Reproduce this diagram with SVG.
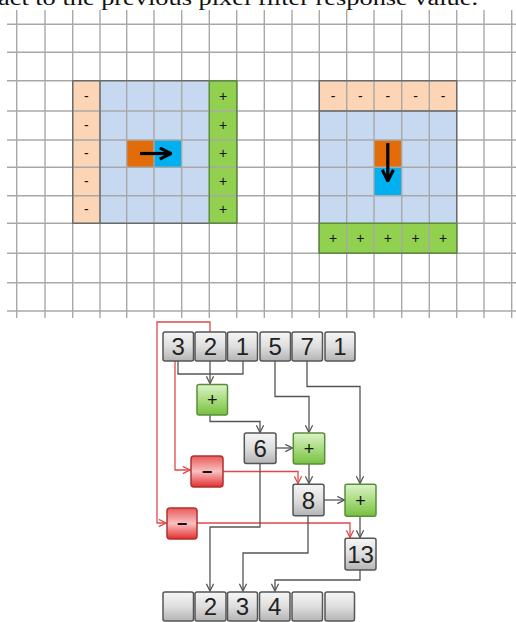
<svg xmlns="http://www.w3.org/2000/svg" width="516" height="622" viewBox="0 0 516 622">
<defs>
<linearGradient id="gGray" x1="0" y1="0" x2="0" y2="1"><stop offset="0" stop-color="#f6f6f6"/><stop offset="0.5" stop-color="#dedede"/><stop offset="1" stop-color="#b4b4b4"/></linearGradient>
<linearGradient id="gGreen" x1="0" y1="0" x2="0" y2="1"><stop offset="0" stop-color="#dcf2c8"/><stop offset="0.5" stop-color="#a9dc80"/><stop offset="1" stop-color="#76c040"/></linearGradient>
<linearGradient id="gRed" x1="0" y1="0" x2="0" y2="1"><stop offset="0" stop-color="#ea5a5a"/><stop offset="0.5" stop-color="#f9c0c0"/><stop offset="1" stop-color="#e42e2e"/></linearGradient>
<marker id="aGray" viewBox="0 0 10 10" refX="9" refY="5" markerWidth="9" markerHeight="9" markerUnits="userSpaceOnUse" orient="auto"><path d="M1,1 L9,5 L1,9" fill="none" stroke="#555" stroke-width="1.4"/></marker>
<marker id="aRed" viewBox="0 0 10 10" refX="9" refY="5" markerWidth="9" markerHeight="9" markerUnits="userSpaceOnUse" orient="auto"><path d="M1,1 L9,5 L1,9" fill="none" stroke="#e04848" stroke-width="1.4"/></marker>
<marker id="aBlk" viewBox="0 0 10 10" refX="9" refY="5" markerWidth="14" markerHeight="14" markerUnits="userSpaceOnUse" orient="auto"><path d="M1,1 L9,5 L1,9" fill="none" stroke="#000" stroke-width="2.2"/></marker>
</defs>
<style>
.grid line{stroke:#a8a8a8;stroke-width:1.4}
.sign{font-family:"Liberation Sans",Arial,sans-serif;font-size:14px;text-anchor:middle;fill:#111}
.num{font-family:"Liberation Sans",Arial,sans-serif;font-size:24px;text-anchor:middle;fill:#222}
.op{font-family:"Liberation Sans",Arial,sans-serif;font-size:18px;text-anchor:middle;fill:#111}
.box{fill:url(#gGray);stroke:#555;stroke-width:1.5}
.gbox{fill:url(#gGreen);stroke:#5a8f3a;stroke-width:1.5}
.rbox{fill:url(#gRed);stroke:#b03030;stroke-width:1.5}
.cg{fill:none;stroke:#555;stroke-width:1.3}
.cr{fill:none;stroke:#e04848;stroke-width:1.3}
</style>
<rect width="516" height="622" fill="#fff"/>
<text x="-2" y="5" font-family="Liberation Serif, Times New Roman, serif" font-size="20" textLength="480" lengthAdjust="spacingAndGlyphs" fill="#111">act to the previous pixel filter response value.</text>

<g id="left-structure">
<rect x="72.7" y="80.7" width="27.3" height="142.6" fill="#fbd5b5"/>
<rect x="100" y="80.7" width="109.3" height="142.6" fill="#c6d9f1"/>
<rect x="209.3" y="80.7" width="27.4" height="142.6" fill="#92d050"/>
<rect x="126.7" y="140" width="27.3" height="27.3" fill="#e36c0a"/>
<rect x="154" y="140" width="27.7" height="27.3" fill="#00b0f0"/>
</g>
<g id="right-structure">
<rect x="319.3" y="80.7" width="137.4" height="30.3" fill="#fbd5b5"/>
<rect x="319.3" y="111" width="137.4" height="112.3" fill="#c6d9f1"/>
<rect x="319.3" y="223.3" width="137.4" height="30" fill="#92d050"/>
<rect x="374" y="140" width="27.7" height="27.3" fill="#e36c0a"/>
<rect x="374" y="167.3" width="27.7" height="28.4" fill="#00b0f0"/>
</g>

<g class="grid">
<line x1="7" y1="24.3" x2="516" y2="24.3"/>
<line x1="7" y1="52.3" x2="516" y2="52.3"/>
<line x1="7" y1="80.7" x2="516" y2="80.7"/>
<line x1="7" y1="111" x2="516" y2="111"/>
<line x1="7" y1="140" x2="516" y2="140"/>
<line x1="7" y1="167.3" x2="516" y2="167.3"/>
<line x1="7" y1="195.7" x2="516" y2="195.7"/>
<line x1="7" y1="223.3" x2="516" y2="223.3"/>
<line x1="7" y1="253.3" x2="516" y2="253.3"/>
<line x1="7" y1="282.7" x2="516" y2="282.7"/>
<line x1="7" y1="311" x2="516" y2="311"/>
<line x1="16.7" y1="10" x2="16.7" y2="318"/>
<line x1="45" y1="10" x2="45" y2="318"/>
<line x1="72.7" y1="10" x2="72.7" y2="318"/>
<line x1="100" y1="10" x2="100" y2="318"/>
<line x1="126.7" y1="10" x2="126.7" y2="318"/>
<line x1="154" y1="10" x2="154" y2="318"/>
<line x1="181.7" y1="10" x2="181.7" y2="318"/>
<line x1="209.3" y1="10" x2="209.3" y2="318"/>
<line x1="236.7" y1="10" x2="236.7" y2="318"/>
<line x1="264.3" y1="10" x2="264.3" y2="318"/>
<line x1="292" y1="10" x2="292" y2="318"/>
<line x1="319.3" y1="10" x2="319.3" y2="318"/>
<line x1="346.7" y1="10" x2="346.7" y2="318"/>
<line x1="374" y1="10" x2="374" y2="318"/>
<line x1="401.7" y1="10" x2="401.7" y2="318"/>
<line x1="429.3" y1="10" x2="429.3" y2="318"/>
<line x1="456.7" y1="10" x2="456.7" y2="318"/>
<line x1="484" y1="10" x2="484" y2="318"/>
<line x1="511.7" y1="10" x2="511.7" y2="318"/>
</g>

<g id="structure-outlines" fill="none" stroke="#6a6a6a" stroke-width="1.4">
<rect x="72.7" y="80.7" width="164" height="142.6"/>
<line x1="100" y1="80.7" x2="100" y2="223.3"/>
<rect x="209.3" y="80.7" width="27.4" height="142.6" stroke="#5a8f3a"/>
<rect x="319.3" y="80.7" width="137.4" height="172.6"/>
<line x1="319.3" y1="111" x2="456.7" y2="111"/>
<rect x="319.3" y="223.3" width="137.4" height="30" stroke="#5a8f3a"/>
</g>

<g id="left-signs">
<text class="sign" x="86.3" y="100.5">-</text>
<text class="sign" x="86.3" y="130">-</text>
<text class="sign" x="86.3" y="158.2">-</text>
<text class="sign" x="86.3" y="186">-</text>
<text class="sign" x="86.3" y="214">-</text>
<text class="sign" x="223" y="100.5">+</text>
<text class="sign" x="223" y="130">+</text>
<text class="sign" x="223" y="158.2">+</text>
<text class="sign" x="223" y="186">+</text>
<text class="sign" x="223" y="214">+</text>
<line x1="140" y1="153.5" x2="171" y2="153.5" stroke="#000" stroke-width="3.2" marker-end="url(#aBlk)"/>
</g>
<g id="right-signs">
<text class="sign" x="333" y="100.5">-</text>
<text class="sign" x="360.3" y="100.5">-</text>
<text class="sign" x="387.8" y="100.5">-</text>
<text class="sign" x="415.5" y="100.5">-</text>
<text class="sign" x="443" y="100.5">-</text>
<text class="sign" x="333" y="243">+</text>
<text class="sign" x="360.3" y="243">+</text>
<text class="sign" x="387.8" y="243">+</text>
<text class="sign" x="415.5" y="243">+</text>
<text class="sign" x="443" y="243">+</text>
<line x1="387.8" y1="143" x2="387.8" y2="181" stroke="#000" stroke-width="3.2" marker-end="url(#aBlk)"/>
</g>

<g id="connectors">
<path class="cr" d="M210,332 V322 H157 V523 H166" marker-end="url(#aRed)"/>
<path class="cr" d="M175,361 V470 H190" marker-end="url(#aRed)"/>
<path class="cr" d="M223,471.5 H298 V483.5" marker-end="url(#aRed)"/>
<path class="cr" d="M197,523 H350 V537.5" marker-end="url(#aRed)"/>
<path class="cg" d="M178,361 V374 H243 V361"/>
<path class="cg" d="M210,361 V383.5" marker-end="url(#aGray)"/>
<path class="cg" d="M210,415 V421.5 H260 V432.5" marker-end="url(#aGray)"/>
<path class="cg" d="M275,361 V396.5 H309 V432.5" marker-end="url(#aGray)"/>
<path class="cg" d="M307,361 V386.5 H360 V483.5" marker-end="url(#aGray)"/>
<path class="cg" d="M276,448 H292.5" marker-end="url(#aGray)"/>
<path class="cg" d="M309,464 V483.5" marker-end="url(#aGray)"/>
<path class="cg" d="M324,500 H344.5" marker-end="url(#aGray)"/>
<path class="cg" d="M360,516.5 V537.5" marker-end="url(#aGray)"/>
<path class="cg" d="M260,463 V527 H210 V591" marker-end="url(#aGray)"/>
<path class="cg" d="M308,516 V553 H243 V591" marker-end="url(#aGray)"/>
<path class="cg" d="M360,570 V580 H275 V591" marker-end="url(#aGray)"/>
</g>

<g id="in-0"><rect class="box" x="163" y="332" width="30.5" height="29" rx="2"/><text class="num" x="178.2" y="355">3</text></g>
<g id="in-1"><rect class="box" x="195" y="332" width="31" height="29" rx="2"/><text class="num" x="210.5" y="355">2</text></g>
<g id="in-2"><rect class="box" x="227.5" y="332" width="30" height="29" rx="2"/><text class="num" x="242.5" y="355">1</text></g>
<g id="in-3"><rect class="box" x="260" y="332" width="30.5" height="29" rx="2"/><text class="num" x="275.2" y="355">5</text></g>
<g id="in-4"><rect class="box" x="292" y="332" width="30.5" height="29" rx="2"/><text class="num" x="307.2" y="355">7</text></g>
<g id="in-5"><rect class="box" x="325" y="332" width="30" height="29" rx="2"/><text class="num" x="340" y="355">1</text></g>

<g id="plus-1"><rect class="gbox" x="197" y="384.5" width="30.5" height="30.5" rx="2"/><text class="op" x="212.2" y="406">+</text></g>
<g id="node-6"><rect class="box" x="244.3" y="433" width="31.7" height="30.5" rx="2"/><text class="num" x="260.2" y="457">6</text></g>
<g id="plus-2"><rect class="gbox" x="293.3" y="433" width="31.4" height="31" rx="2"/><text class="op" x="309" y="455">+</text></g>
<g id="minus-1"><rect class="rbox" x="191" y="456" width="32" height="31" rx="3"/><text class="op" x="207" y="478" font-weight="bold">−</text></g>
<g id="node-8"><rect class="box" x="293" y="484.3" width="31" height="31.5" rx="2"/><text class="num" x="308.5" y="509">8</text></g>
<g id="plus-3"><rect class="gbox" x="345" y="484.3" width="31" height="32" rx="2"/><text class="op" x="360.5" y="507">+</text></g>
<g id="minus-2"><rect class="rbox" x="167" y="508" width="30" height="31" rx="3"/><text class="op" x="182" y="530" font-weight="bold">−</text></g>
<g id="node-13"><rect class="box" x="345" y="538.3" width="31" height="31.7" rx="2"/><text class="num" x="360.5" y="563">13</text></g>

<g id="out-0"><rect class="box" x="163" y="592" width="30.5" height="29" rx="2"/></g>
<g id="out-1"><rect class="box" x="195" y="592" width="31" height="29" rx="2"/><text class="num" x="210.5" y="615">2</text></g>
<g id="out-2"><rect class="box" x="227.5" y="592" width="30" height="29" rx="2"/><text class="num" x="242.5" y="615">3</text></g>
<g id="out-3"><rect class="box" x="259.5" y="592" width="30.5" height="29" rx="2"/><text class="num" x="274.7" y="615">4</text></g>
<g id="out-4"><rect class="box" x="292" y="592" width="30.5" height="29" rx="2"/></g>
<g id="out-5"><rect class="box" x="325" y="592" width="29.5" height="29" rx="2"/></g>
</svg>
